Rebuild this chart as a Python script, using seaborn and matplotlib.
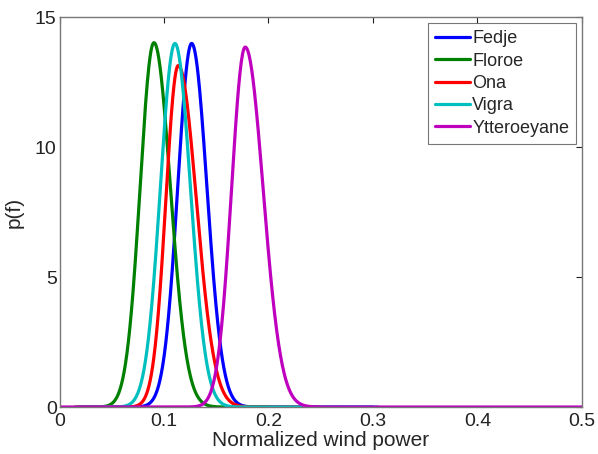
import numpy as np
import pandas as pd
import matplotlib
matplotlib.use("Agg")
import matplotlib.pyplot as plt
import seaborn as sns

# Data (split-normal density curves)
stations = ["Fedje", "Floroe", "Ona", "Vigra", "Ytteroeyane"]
modes = [0.1265, 0.0904, 0.1137, 0.1105, 0.1778]
peaks = [14.0, 14.03, 13.15, 14.0, 13.86]
sd_left = [0.0133, 0.0132, 0.0119, 0.0139, 0.0131]
sd_right = [0.0146, 0.0157, 0.0173, 0.0148, 0.0171]
x_start = [0.02, 0.015, 0.02, 0.02, 0.0]
x_end = [0.3, 0.2, 0.25, 0.305, 0.5]
colors = ["#0000ff", "#008000", "#ff0000", "#00bfbf", "#bf00bf"]

rows = []
for name, m, p, sl, sr, a, b in zip(stations, modes, peaks, sd_left, sd_right, x_start, x_end):
    x = np.linspace(a, b, 800)
    sd = np.where(x < m, sl, sr)
    y = p * np.exp(-0.5 * ((x - m) / sd) ** 2)
    rows.append(pd.DataFrame({"x": x, "y": y, "station": name}))
df = pd.concat(rows, ignore_index=True)

sns.set_style("white")
plt.rcParams["font.family"] = ["Liberation Sans", "DejaVu Sans"]

fig = plt.figure(figsize=(5.98, 4.54), dpi=100)
ax = fig.add_axes([0.0995, 0.1035, 0.8735, 0.858])
sns.lineplot(data=df, x="x", y="y", hue="station", hue_order=stations,
             palette=dict(zip(stations, colors)), linewidth=2.3, ax=ax,
             sort=False, estimator=None)

ax.set_xlim(0, 0.5)
ax.set_ylim(0, 15)
ax.set_xticks([0, 0.1, 0.2, 0.3, 0.4, 0.5])
ax.set_xticklabels(["0", "0.1", "0.2", "0.3", "0.4", "0.5"])
ax.set_yticks([0, 5, 10, 15])
ax.set_xlabel("Normalized wind power", fontsize=15, labelpad=1)
ax.set_ylabel("p(f)", fontsize=15, labelpad=8)
ax.tick_params(direction="in", length=4, width=0.8, top=True, right=True,
               labelsize=14, colors="#222222", pad=2)
ax.tick_params(axis="x", pad=4)
for s in ax.spines.values():
    s.set_visible(True)
    s.set_color("#777777")
    s.set_linewidth(1.0)

leg = ax.legend(loc="upper right", fontsize=13, frameon=True, fancybox=False,
                handlelength=1.9, handletextpad=0.15, borderpad=0.4,
                labelspacing=0.3, borderaxespad=0.3, title=None)
leg.get_frame().set_edgecolor("#555555")
leg.get_frame().set_linewidth(0.8)
for line in leg.get_lines():
    line.set_linewidth(2.3)

fig.savefig("out.png", dpi=100)
